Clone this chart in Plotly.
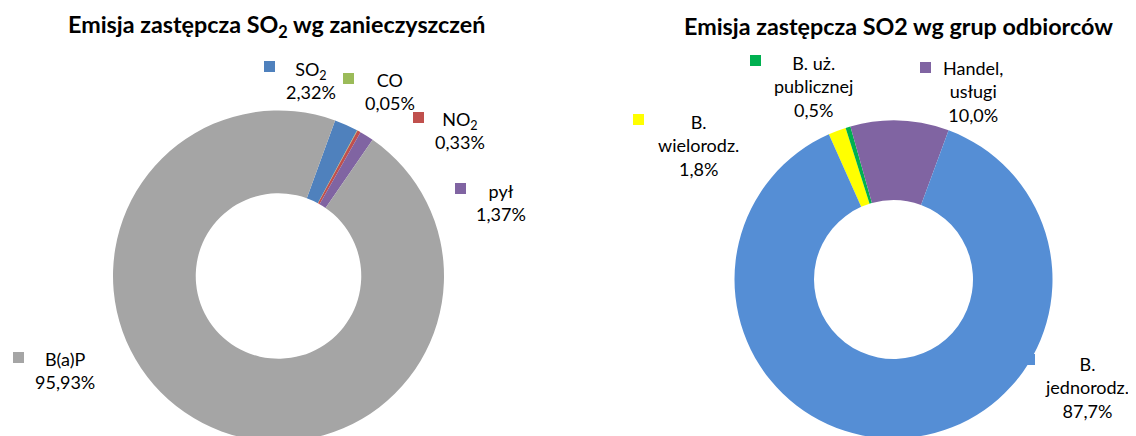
import plotly.graph_objects as go

W, H = 1136, 436
OFF = 8  # page body margin in the browser

# ---- data ----
left_labels = ["SO<sub>2</sub>", "CO", "NO<sub>2</sub>", "pył", "B(a)P"]
left_values = [2.32, 0.05, 0.33, 1.37, 95.93]
left_colors = ["#4F81BD", "#9BBB59", "#C0504D", "#8064A2", "#A5A5A5"]

right_labels = ["B.<br>wielorodz.", "B. uż.<br>publicznej", "Handel,<br>usługi", "B.<br>jednorodz."]
right_values = [1.8, 0.5, 10.0, 87.7]
right_colors = ["#FFFF00", "#00B050", "#8064A2", "#558ED5"]

left_title = "Emisja zastępcza SO<sub>2</sub> wg zanieczyszczeń"
right_title = "Emisja zastępcza SO2 wg grup odbiorców"

FONT = "Lato"
LBL_SIZE = 18
TITLE_SIZE = 23.3


def px(x):
    return (x - OFF) / W


def py(y):
    return 1 - (y - OFF) / H


def dom(cx, cy, r):
    return dict(x=[px(cx - r), px(cx + r)], y=[py(cy + r), py(cy - r)])


fig = go.Figure()
fig.add_trace(go.Pie(
    labels=[l.replace("<sub>", "").replace("</sub>", "") for l in left_labels],
    values=left_values, marker=dict(colors=left_colors, line=dict(width=0)),
    hole=0.5, sort=False, direction="clockwise", rotation=20,
    textinfo="none", hoverinfo="label+percent", domain=dom(278.5, 276, 165.5),
    showlegend=False))
fig.add_trace(go.Pie(
    labels=[l.replace("<br>", " ") for l in right_labels],
    values=right_values, marker=dict(colors=right_colors, line=dict(width=0)),
    hole=0.5, sort=False, direction="clockwise", rotation=-24,
    textinfo="none", hoverinfo="label+percent", domain=dom(893.5, 279.5, 159),
    showlegend=False))


def fmt(v, d):
    return f"{v:.{d}f}".replace(".", ",") + "%"


# label layout (pixel positions): text centre, marker box top-left
left_pos = [
    (311, 80.5, (264, 61)),
    (390, 91.5, (343, 73)),
    (460, 130.5, (413, 112)),
    (501, 202.5, (455, 183)),
    (65, 370.5, (13, 352)),
]
right_pos = [
    (698, 145, (633, 114)),
    (813, 86.5, (750, 55)),
    (973, 92, (920, 62)),
    (1087, 387, (1024, 354)),
]

annotations = []
shapes = []


def add_labels(labels, values, colors, pos, dec):
    for lab, v, c, (tx, ty, (mx, my)) in zip(labels, values, colors, pos):
        annotations.append(dict(
            x=px(tx), y=py(ty), xref="paper", yref="paper",
            text=f"{lab}<br>{fmt(v, dec)}", showarrow=False,
            xanchor="center", yanchor="middle", align="center",
            font=dict(family=FONT, size=LBL_SIZE, color="#000000")))
        shapes.append(dict(
            type="rect", xref="paper", yref="paper",
            x0=px(mx), x1=px(mx + 11), y0=py(my + 11), y1=py(my),
            fillcolor=c, line=dict(width=0)))


add_labels(left_labels, left_values, left_colors, left_pos, 2)
add_labels(right_labels, right_values, right_colors, right_pos, 1)

annotations.append(dict(x=px(276), y=py(26), xref="paper", yref="paper",
                        text=f"<b>{left_title}</b>", showarrow=False,
                        xanchor="center", yanchor="middle",
                        font=dict(family=FONT, size=TITLE_SIZE, color="#000000")))
annotations.append(dict(x=px(898), y=py(26), xref="paper", yref="paper",
                        text=f"<b>{right_title}</b>", showarrow=False,
                        xanchor="center", yanchor="middle",
                        font=dict(family=FONT, size=TITLE_SIZE, color="#000000")))

fig.update_layout(
    width=W, height=H, autosize=False,
    margin=dict(l=0, r=0, t=0, b=0),
    paper_bgcolor="#FFFFFF", plot_bgcolor="#FFFFFF",
    annotations=annotations, shapes=shapes,
    font=dict(family=FONT),
)

fig.write_html("out.html")
